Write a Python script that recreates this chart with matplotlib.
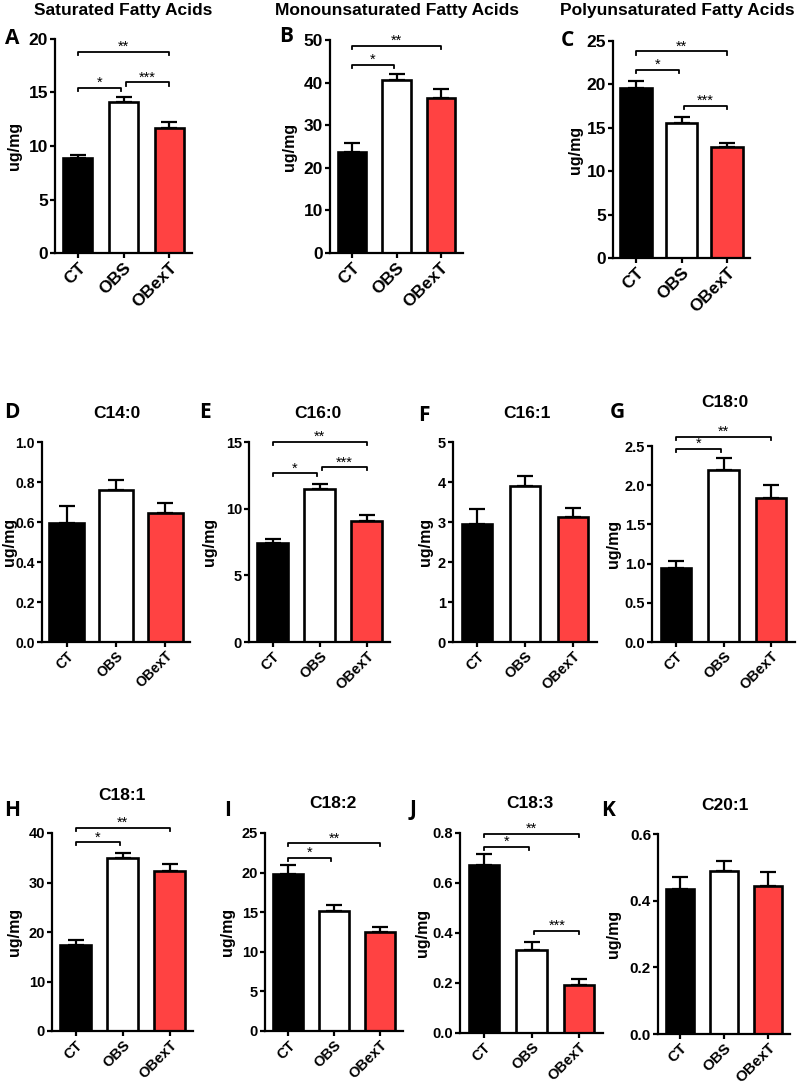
import matplotlib
matplotlib.use("Agg")
from matplotlib import pyplot as plt

plt.rcParams['font.family'] = ['Liberation Sans', 'DejaVu Sans']
plt.rcParams['font.weight'] = 'bold'

groups = ['CT', 'OBS', 'OBexT']
bar_colors = ['#000000', '#ffffff', '#ff4242']

# means and upper SEM for every panel
sfa_mean = [8.9, 14.1, 11.7]
sfa_err = [0.3, 0.5, 0.5]
mufa_mean = [23.8, 40.5, 36.5]
mufa_err = [2.1, 1.5, 2.0]
pufa_mean = [19.6, 15.6, 12.8]
pufa_err = [0.8, 0.65, 0.5]
c14_0_mean = [0.595, 0.762, 0.645]
c14_0_err = [0.085, 0.048, 0.05]
c16_0_mean = [7.44, 11.45, 9.1]
c16_0_err = [0.26, 0.38, 0.4]
c16_1_mean = [2.94, 3.89, 3.12]
c16_1_err = [0.39, 0.26, 0.22]
c18_0_mean = [0.948, 2.198, 1.84]
c18_0_err = [0.082, 0.149, 0.167]
c18_1_mean = [17.4, 34.9, 32.4]
c18_1_err = [1.0, 1.0, 1.35]
c18_2_mean = [19.8, 15.2, 12.5]
c18_2_err = [1.2, 0.7, 0.65]
c18_3_mean = [0.673, 0.334, 0.194]
c18_3_err = [0.044, 0.029, 0.021]
c20_1_mean = [0.435, 0.489, 0.443]
c20_1_err = [0.035, 0.029, 0.043]

# significance brackets: (from group, to group, height, label)
sfa_sig = [(0, 1, 15.4, '*'), (1, 2, 15.95, '***'), (0, 2, 18.8, '**')]
mufa_sig = [(0, 1, 44.1, '*'), (0, 2, 48.7, '**')]
pufa_sig = [(0, 1, 21.7, '*'), (1, 2, 17.5, '***'), (0, 2, 23.8, '**')]
c16_0_sig = [(0, 1, 12.66, '*'), (1, 2, 13.1, '***'), (0, 2, 15.0, '**')]
c18_0_sig = [(0, 1, 2.466, '*'), (0, 2, 2.62, '**')]
c18_1_sig = [(0, 1, 38.1, '*'), (0, 2, 41.1, '**')]
c18_2_sig = [(0, 1, 21.9, '*'), (0, 2, 23.7, '**')]
c18_3_sig = [(0, 1, 0.746, '*'), (0, 2, 0.796, '**'), (1, 2, 0.409, '***')]

W, H = 797, 1086
fig = plt.figure(figsize=(W / 100, H / 100), dpi=100)


def panel(rect, mean, err, ymax, ystep, fmt, letter, letter_xy, title, title_xy,
          title_size, ylab_x, sig=(), tick_size=10.5, width=0.64):
    x0, x1, yt, yb = rect
    ax = fig.add_axes([x0 / W, 1 - yb / H, (x1 - x0) / W, (yb - yt) / H])
    xs = range(len(groups))
    ax.errorbar(xs, mean, yerr=[[0] * 3, err], fmt='none', ecolor='black',
                elinewidth=1.6, capsize=6, capthick=1.6, zorder=1)
    ax.bar(xs, mean, width=width, color=bar_colors, edgecolor='black',
           linewidth=1.9, zorder=2)
    ax.set_xlim(-0.5, 2.5)
    ax.set_ylim(0, ymax)
    ticks = [i * ystep for i in range(int(round(ymax / ystep)) + 1)]
    ax.set_yticks(ticks)
    ax.set_yticklabels([fmt.format(t) for t in ticks], fontsize=tick_size,
                       fontweight='bold')
    ax.set_xticks(list(xs))
    ax.set_xticklabels(groups, rotation=45, ha='right', rotation_mode='anchor',
                       fontsize=tick_size, fontweight='bold')
    for s in ['top', 'right']:
        ax.spines[s].set_visible(False)
    for s in ['left', 'bottom']:
        ax.spines[s].set_linewidth(1.6)
    ax.tick_params(width=1.6, length=3.5, pad=1.5)
    fig.text(ylab_x / W, 1 - (yt + yb) / 2 / H, 'ug/mg', rotation=90,
             fontsize=11.5, fontweight='bold', ha='center', va='center')
    drop = ymax * 0.015
    for i, j, y, lab in sig:
        a = i + (0.06 if i == 1 else 0)
        b = j - (0.06 if j == 1 else 0)
        ax.plot([a, a, b, b], [y - drop, y, y, y - drop], color='black',
                lw=1.3, clip_on=False, zorder=3)
        ax.text((a + b) / 2, y + drop * 0.3, lab, ha='center', va='baseline',
                fontsize=10.5, fontweight='normal', clip_on=False)
    fig.text(letter_xy[0] / W, 1 - letter_xy[1] / H, letter, fontsize=15,
             fontweight='bold', family=['Open Sans', 'DejaVu Sans'],
             ha='left', va='center')
    fig.text(title_xy[0] / W, 1 - title_xy[1] / H, title, fontsize=title_size,
             fontweight='bold', ha='center', va='center')
    return ax


panel((55, 192, 39, 253), sfa_mean, sfa_err, 20, 5, '{:.0f}', 'A', (5, 39),
      'Saturated Fatty Acids', (123, 11), 12.5, 15, sfa_sig, tick_size=12.5)
panel((330, 463, 40, 253), mufa_mean, mufa_err, 50, 10, '{:.0f}', 'B', (279, 37),
      'Monounsaturated Fatty Acids', (397, 11), 12.5, 290, mufa_sig, tick_size=12.5)
panel((613, 750, 41, 258), pufa_mean, pufa_err, 25, 5, '{:.0f}', 'C', (561, 40),
      'Polyunsaturated Fatty Acids', (677, 11), 12.5, 575, pufa_sig, tick_size=12.5,
      width=0.7)

panel((42, 190, 442, 642), c14_0_mean, c14_0_err, 1.0, 0.2, '{:.1f}', 'D', (4, 413),
      'C14:0', (117, 413), 12.5, 9, width=0.7, tick_size=10)
panel((249, 390, 442, 642), c16_0_mean, c16_0_err, 15, 5, '{:.0f}', 'E', (199, 413),
      'C16:0', (318, 413), 12.5, 210, c16_0_sig)
panel((453, 597, 442, 642), c16_1_mean, c16_1_err, 5, 1, '{:.0f}', 'F', (418, 415),
      'C16:1', (527, 413), 12.5, 425)
panel((652, 795, 446, 642), c18_0_mean, c18_0_err, 2.5, 0.5, '{:.1f}', 'G', (610, 413),
      'C18:0', (725, 402), 12.5, 613, c18_0_sig)

panel((52, 193, 833, 1031), c18_1_mean, c18_1_err, 40, 10, '{:.0f}', 'H', (4, 810),
      'C18:1', (122, 795), 12.5, 15, c18_1_sig)
panel((265, 403, 833, 1031), c18_2_mean, c18_2_err, 25, 5, '{:.0f}', 'I', (224, 810),
      'C18:2', (333, 803), 12.5, 227, c18_2_sig)
panel((460, 603, 833, 1033), c18_3_mean, c18_3_err, 0.8, 0.2, '{:.1f}', 'J', (410, 810),
      'C18:3', (530, 803), 12.5, 422, c18_3_sig)
panel((658, 790, 834, 1034), c20_1_mean, c20_1_err, 0.6, 0.2, '{:.1f}', 'K', (601, 810),
      'C20:1', (725, 805), 12.5, 613, tick_size=11)

fig.savefig('out.png', dpi=100)
